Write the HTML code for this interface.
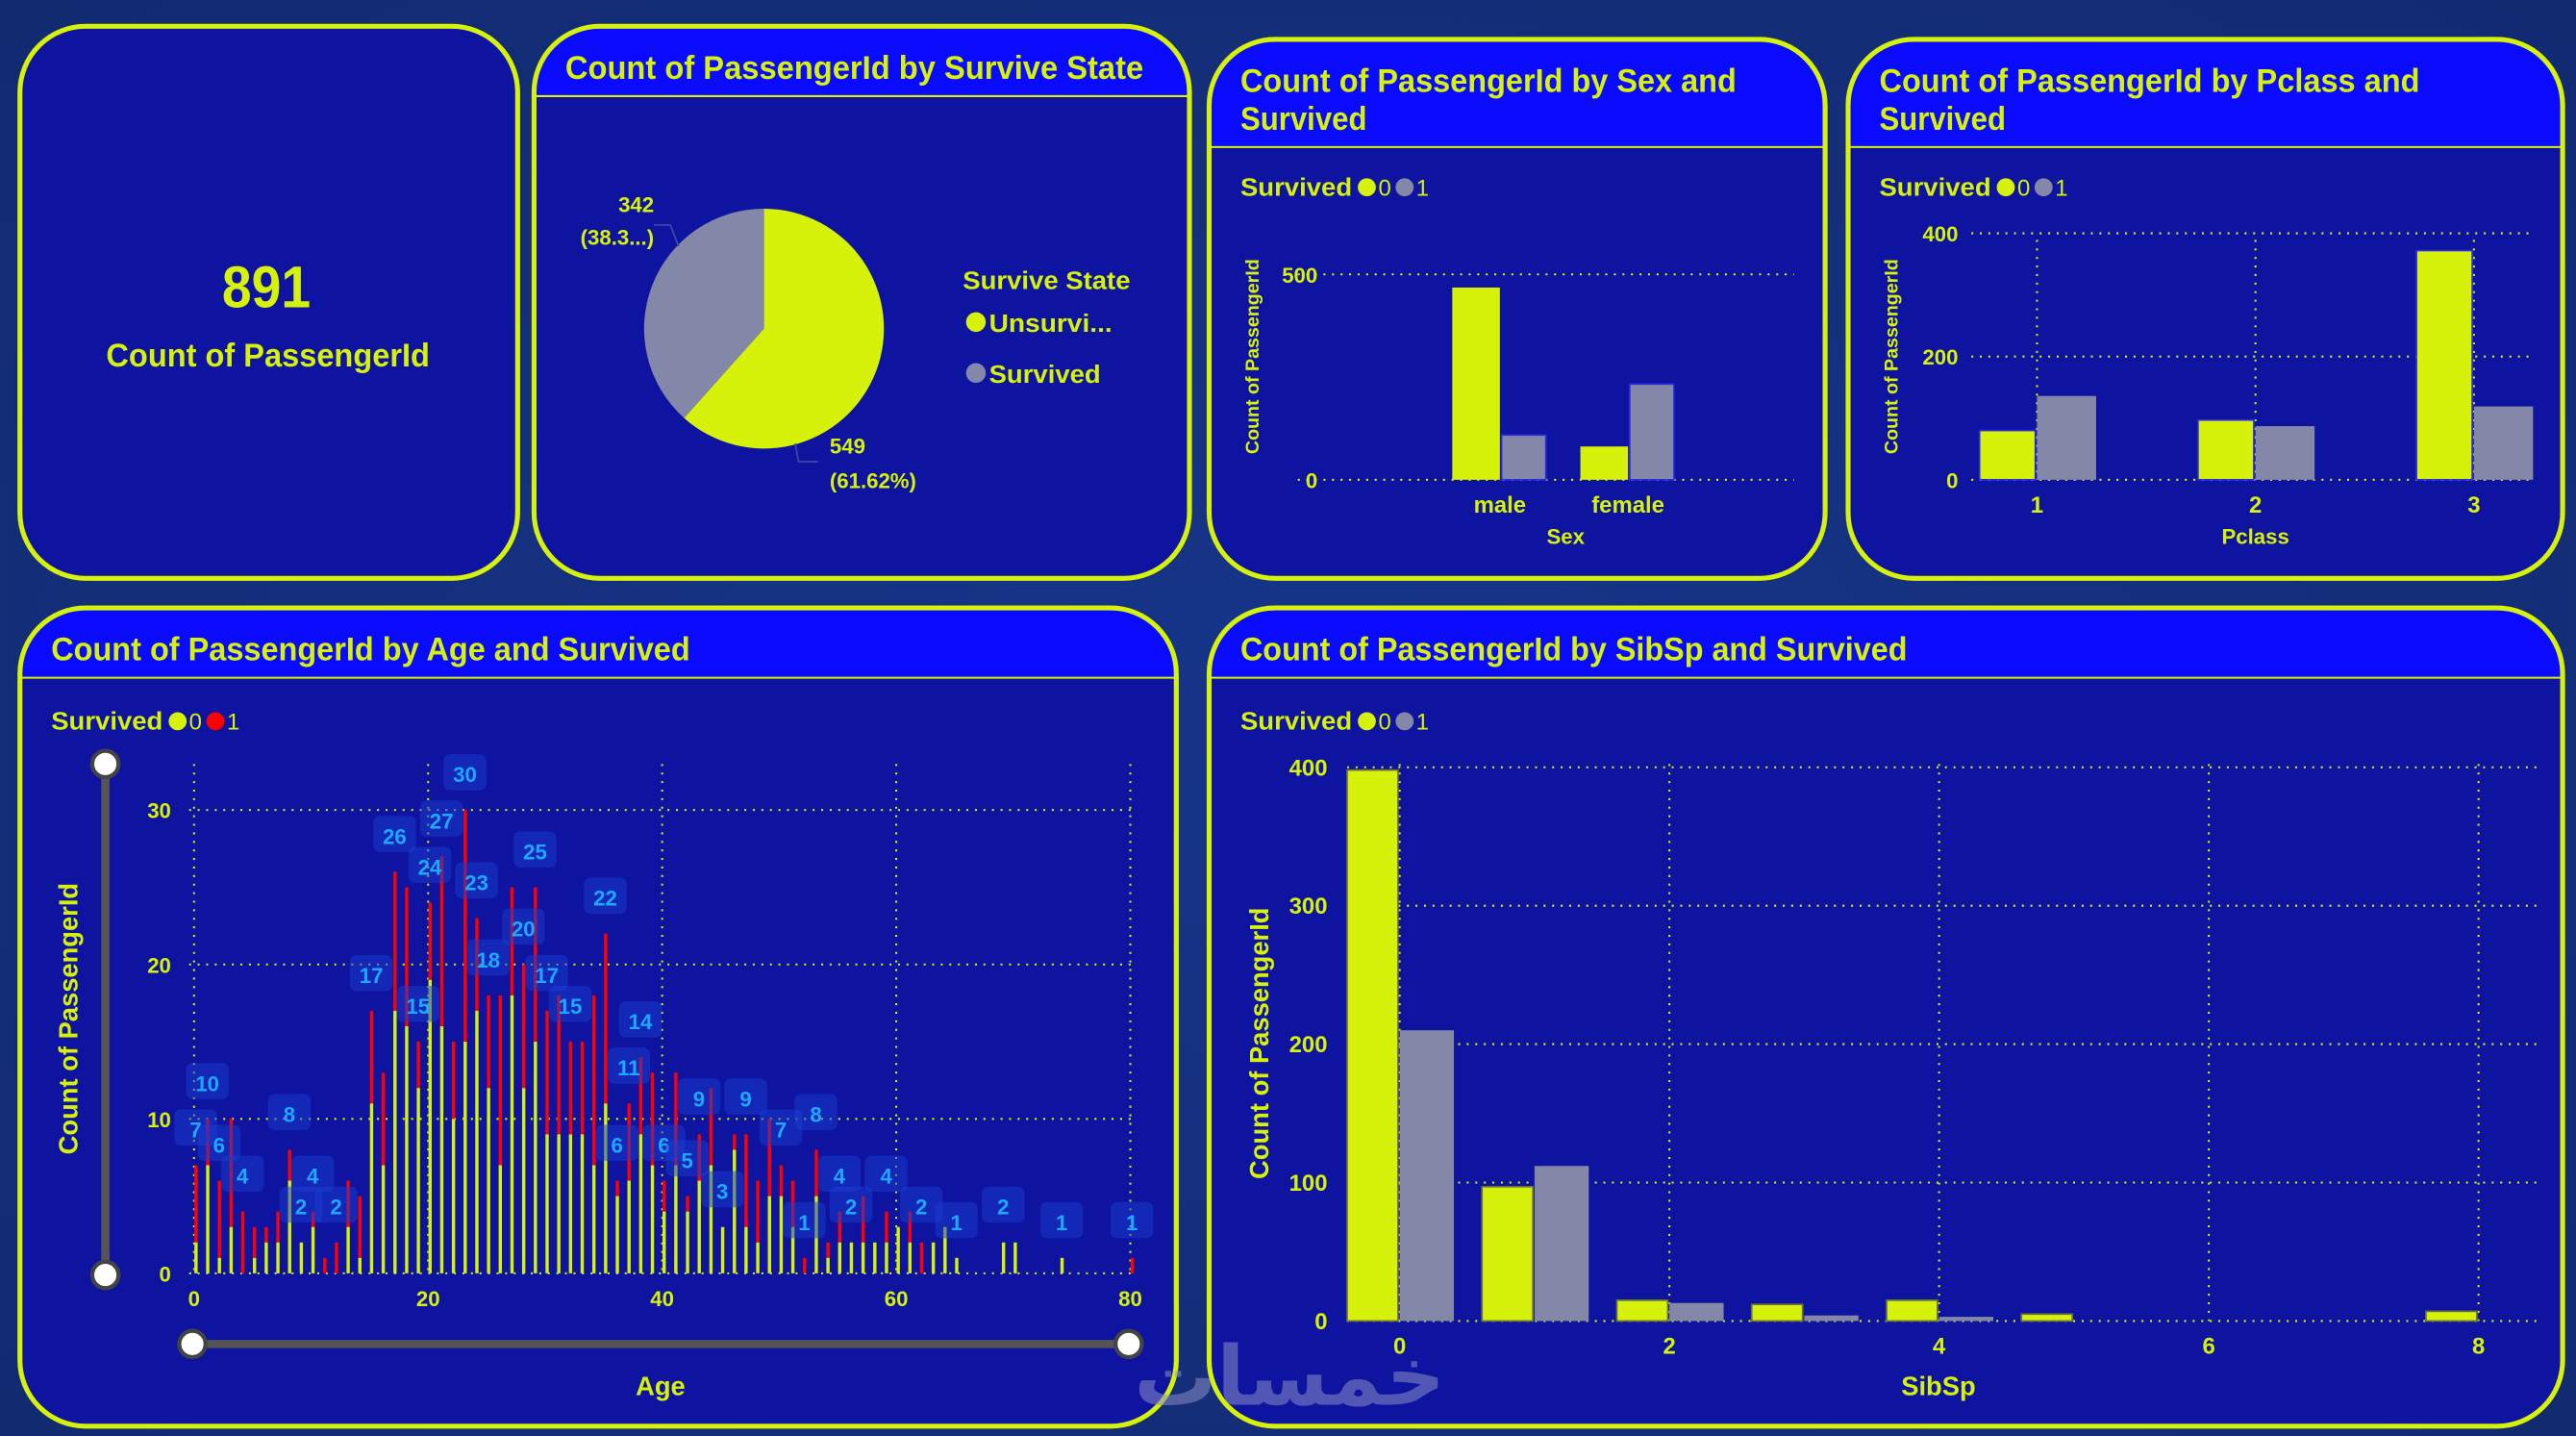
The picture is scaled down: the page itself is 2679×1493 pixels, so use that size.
<!DOCTYPE html>
<html><head><meta charset="utf-8">
<style>
html,body{margin:0;padding:0;background:#14307c;}
svg{display:block;font-family:"Liberation Sans",sans-serif;}
.t{fill:#d6f20a;font-weight:bold;}
</style></head>
<body>
<svg id="dash" width="2679" height="1493" viewBox="0 0 1568 874" xmlns="http://www.w3.org/2000/svg">
<defs>
<radialGradient id="bg" cx="50%" cy="50%" r="70%"><stop offset="0" stop-color="#17358a"/><stop offset="1" stop-color="#122a70"/></radialGradient>
<clipPath id="c2"><rect x="325" y="16" width="399" height="336" rx="40"/></clipPath>
<clipPath id="c3"><rect x="736" y="24" width="375" height="328" rx="40"/></clipPath>
<clipPath id="c4"><rect x="1125" y="24" width="435" height="328" rx="40"/></clipPath>
<clipPath id="c5"><rect x="12" y="370" width="704" height="498" rx="40"/></clipPath>
<clipPath id="c6"><rect x="736" y="370" width="824" height="498" rx="40"/></clipPath>
</defs>
<rect width="1568" height="874" fill="url(#bg)"/>

<g>
<rect x="12" y="16" width="303" height="336" rx="40" fill="#0e14a0" stroke="#d6f20a" stroke-width="3"/>
<text x="162" y="187" text-anchor="middle" class="t" font-size="36" textLength="54" lengthAdjust="spacingAndGlyphs">891</text>
<text x="163" y="223" text-anchor="middle" class="t" font-size="20" textLength="197" lengthAdjust="spacingAndGlyphs">Count of PassengerId</text>
</g>

<g>
<g clip-path="url(#c2)"><rect x="325" y="16" width="399" height="336" fill="#0e14a0"/><rect x="325" y="16" width="399" height="42" fill="#0a0aff"/><line x1="325" y1="58.5" x2="724" y2="58.5" stroke="#d6f20a" stroke-width="1.2"/></g>
<rect x="325" y="16" width="399" height="336" rx="40" fill="none" stroke="#d6f20a" stroke-width="3"/>
<text x="344" y="48" class="t" font-size="20" textLength="352" lengthAdjust="spacingAndGlyphs">Count of PassengerId by Survive State</text>
</g>
<g>
<g clip-path="url(#c3)"><rect x="736" y="24" width="375" height="328" fill="#0e14a0"/><rect x="736" y="24" width="375" height="65" fill="#0a0aff"/><line x1="736" y1="89.5" x2="1111" y2="89.5" stroke="#d6f20a" stroke-width="1.2"/></g>
<rect x="736" y="24" width="375" height="328" rx="40" fill="none" stroke="#d6f20a" stroke-width="3"/>
<text x="755" y="56" class="t" font-size="20" textLength="302" lengthAdjust="spacingAndGlyphs">Count of PassengerId by Sex and</text>
<text x="755" y="79" class="t" font-size="20" textLength="77" lengthAdjust="spacingAndGlyphs">Survived</text>
</g>
<g>
<g clip-path="url(#c4)"><rect x="1125" y="24" width="435" height="328" fill="#0e14a0"/><rect x="1125" y="24" width="435" height="65" fill="#0a0aff"/><line x1="1125" y1="89.5" x2="1560" y2="89.5" stroke="#d6f20a" stroke-width="1.2"/></g>
<rect x="1125" y="24" width="435" height="328" rx="40" fill="none" stroke="#d6f20a" stroke-width="3"/>
<text x="1144" y="56" class="t" font-size="20" textLength="329" lengthAdjust="spacingAndGlyphs">Count of PassengerId by Pclass and</text>
<text x="1144" y="79" class="t" font-size="20" textLength="77" lengthAdjust="spacingAndGlyphs">Survived</text>
</g>
<g>
<g clip-path="url(#c5)"><rect x="12" y="370" width="704" height="498" fill="#0e14a0"/><rect x="12" y="370" width="704" height="42" fill="#0a0aff"/><line x1="12" y1="412.5" x2="716" y2="412.5" stroke="#d6f20a" stroke-width="1.2"/></g>
<rect x="12" y="370" width="704" height="498" rx="40" fill="none" stroke="#d6f20a" stroke-width="3"/>
<text x="31" y="402" class="t" font-size="20" textLength="389" lengthAdjust="spacingAndGlyphs">Count of PassengerId by Age and Survived</text>
</g>
<g>
<g clip-path="url(#c6)"><rect x="736" y="370" width="824" height="498" fill="#0e14a0"/><rect x="736" y="370" width="824" height="42" fill="#0a0aff"/><line x1="736" y1="412.5" x2="1560" y2="412.5" stroke="#d6f20a" stroke-width="1.2"/></g>
<rect x="736" y="370" width="824" height="498" rx="40" fill="none" stroke="#d6f20a" stroke-width="3"/>
<text x="755" y="402" class="t" font-size="20" textLength="406" lengthAdjust="spacingAndGlyphs">Count of PassengerId by SibSp and Survived</text>
</g>

<text x="586" y="176" class="t" font-size="15" textLength="102" lengthAdjust="spacingAndGlyphs">Survive State</text>
<g><circle cx="594" cy="196" r="6" fill="#d6f20a"/><text x="602" y="202" class="t" font-size="15" textLength="75" lengthAdjust="spacingAndGlyphs">Unsurvi...</text></g>
<g><circle cx="594" cy="227" r="6" fill="#8488a8"/><text x="602" y="233" class="t" font-size="15" textLength="68" lengthAdjust="spacingAndGlyphs">Survived</text></g>
<g id="pie"></g>

<text x="785" y="855" text-anchor="middle" font-family="'DejaVu Sans',sans-serif" font-size="50" fill="#8a8fc8" opacity="0.55" font-weight="bold">خمسات</text>

<g id="charts"></g>
</svg>
<script>
const pieLabels = ["Unsurvived", "Survived"];
const pieValues = [549, 342];

const sexCats = ["male", "female"];
const sexS0 = [468, 81];
const sexS1 = [109, 233];

const pclassCats = ["1", "2", "3"];
const pclassS0 = [80, 97, 372];
const pclassS1 = [136, 87, 119];

const sibspCats = [0, 1, 2, 3, 4, 5, 8];
const sibspS0 = [398, 97, 15, 12, 15, 5, 7];
const sibspS1 = [210, 112, 13, 4, 3, 0, 0];

const ageCats = [0,1,2,3,4,5,6,7,8,9,10,11,12,13,14,15,16,17,18,19,20,21,22,23,24,25,26,27,28,29,30,31,32,33,34,35,36,37,38,39,40,41,42,43,44,45,46,47,48,49,50,51,52,53,54,55,56,57,58,59,60,61,62,63,64,65,69,70,74,80];
const ageS0 = [2,7,1,3,0,1,2,2,6,2,3,0,0,3,1,11,7,17,16,12,19,16,10,15,17,12,7,18,12,15,9,9,9,9,7,11,5,6,9,7,4,7,4,6,7,3,8,3,2,5,5,3,0,5,1,2,2,2,2,2,3,2,0,2,3,1,2,2,1,0];
const ageS1 = [5,3,5,7,4,2,1,2,2,0,1,1,2,3,4,6,6,9,9,3,5,11,5,15,6,6,11,7,8,10,8,9,6,6,11,11,1,5,5,6,2,6,1,3,5,0,1,6,4,5,2,3,1,3,1,2,0,3,0,2,0,2,2,0,0,0,0,0,0,1];
const ageLabelAges = [0,1,2,4,8,9,10,12,15,17,19,20,21,23,24,25,28,29,30,32,35,36,37,38,40,42,43,45,47,50,52,53,55,56,59,62,65,69,74,80];

const Y = "#d6f20a", G = "#8488a8", R = "#ff0000";
const NS = "http://www.w3.org/2000/svg";
const root = document.getElementById("charts");
function mk(tag, attrs, parent) {
  const e = document.createElementNS(NS, tag);
  for (const k in attrs) e.setAttribute(k, attrs[k]);
  (parent || root).appendChild(e);
  return e;
}
function txt(x, y, s, size, anchor, parent, extra) {
  const e = mk("text", Object.assign({x: x, y: y, "font-size": size, "text-anchor": anchor || "start", fill: Y, "font-weight": "bold"}, extra || {}), parent);
  e.textContent = s;
  return e;
}
function hgrid(x1, x2, y) { mk("line", {x1: x1, x2: x2, y1: y, y2: y, stroke: Y, "stroke-width": 1.2, "stroke-dasharray": "1.2 4"}); }
function vgrid(x, y1, y2) { mk("line", {x1: x, x2: x, y1: y1, y2: y2, stroke: Y, "stroke-width": 1.2, "stroke-dasharray": "1.2 4"}); }
function legend(x, y, c0, c1) {
  const g = mk("g", {});
  
  
  txt(x, y, "Survived", 15, "start", g, {textLength: 68, lengthAdjust: "spacingAndGlyphs"});
  mk("circle", {cx: x + 77, cy: y - 5, r: 5.5, fill: c0}, g);
  txt(x + 84, y, "0", 14, "start", g, {"font-weight": "normal"});
  mk("circle", {cx: x + 100, cy: y - 5, r: 5.5, fill: c1}, g);
  txt(x + 107, y, "1", 14, "start", g, {"font-weight": "normal"});
}
function yTitle(x, y, s, size) {
  const e = txt(x, y, s, size, "middle", null, {transform: "rotate(-90 " + x + " " + y + ")"});
  
  
}

(function () {
  const pg = document.getElementById("pie");
  const cx = 465, cy = 200, r = 73;
  const total = pieValues.reduce((a, b) => a + b, 0);
  const cols = [Y, G];
  let a0 = 0;
  pieValues.forEach((v, i) => {
    const a1 = a0 + v / total * 2 * Math.PI;
    const p = (a) => [cx + r * Math.sin(a), cy - r * Math.cos(a)];
    const s = p(a0), e = p(a1);
    const large = (a1 - a0) > Math.PI ? 1 : 0;
    const path = mk("path", {d: `M${cx},${cy} L${s[0]},${s[1]} A${r},${r} 0 ${large} 1 ${e[0]},${e[1]} Z`, fill: cols[i]}, pg);
    
    
    a0 = a1;
  });
  const pct0 = (pieValues[0] / total * 100).toFixed(2);
  const pct1 = (Math.floor(pieValues[1] / total * 1000) / 10).toFixed(1);
  mk("polyline", {points: "484,270 486,281 498,281", fill: "none", stroke: "#3a4aa0", "stroke-width": 1}, pg);
  mk("polyline", {points: "398,137 408,137 413,150", fill: "none", stroke: "#3a4aa0", "stroke-width": 1}, pg);
  const l1 = txt(505, 276, String(pieValues[0]), 13, "start", pg);  
  txt(505, 297, "(" + pct0 + "%)", 13, "start", pg);
  const l2 = txt(398, 129, String(pieValues[1]), 13, "end", pg);  
  txt(398, 149, "(" + pct1 + "...)", 13, "end", pg);
})();

(function () {
  const y = v => 292 - v * 0.25;
  const cx = [913, 991];
  legend(755, 119, Y, G);
  hgrid(790, 1092, y(500)); hgrid(790, 1092, y(0));
  [0, 500].forEach(t => txt(802, y(t) + 5, String(t), 13, "end"));
  sexCats.forEach((c, i) => {
    const b0 = mk("rect", {x: cx[i] - 29, y: y(sexS0[i]), width: 29, height: 292 - y(sexS0[i]), fill: Y});
     
    const b1 = mk("rect", {x: cx[i] + 1, y: y(sexS1[i]), width: 27, height: 292 - y(sexS1[i]), fill: G, stroke: "#2a2ae0", "stroke-width": 1});
     
    txt(cx[i], 312, c, 14, "middle");
  });
  const xt = txt(953, 331, "Sex", 13, "middle");  
  yTitle(766, 217, "Count of PassengerId", 11.5);
})();

(function () {
  const y = v => 292 - v * 0.375;
  const cx = [1240, 1373, 1506];
  legend(1144, 119, Y, G);
  [0, 200, 400].forEach(t => { hgrid(1200, 1543, y(t)); txt(1192, y(t) + 5, String(t), 13, "end"); });
  cx.forEach(x => vgrid(x, 146, 292));
  pclassCats.forEach((c, i) => {
    const b0 = mk("rect", {x: cx[i] - 35, y: y(pclassS0[i]), width: 34, height: 292 - y(pclassS0[i]), fill: Y, stroke: "#2a2ae0", "stroke-width": 1});
     
    const b1 = mk("rect", {x: cx[i], y: y(pclassS1[i]), width: 36, height: 292 - y(pclassS1[i]), fill: G});
     
    txt(cx[i], 312, c, 14, "middle");
  });
  const xt = txt(1373, 331, "Pclass", 13, "middle");  
  yTitle(1155, 217, "Count of PassengerId", 11.5);
})();

(function () {
  const x = v => 852 + v * 82.1;
  const y = v => 804 - v * 0.8425;
  legend(755, 444, Y, G);
  [0, 100, 200, 300, 400].forEach(t => { hgrid(820, 1545, y(t)); txt(808, y(t) + 5, String(t), 14, "end"); });
  [0, 2, 4, 6, 8].forEach(t => { vgrid(x(t), 465, 804); txt(x(t), 824, String(t), 14, "middle"); });
  sibspCats.forEach((c, i) => {
    if (sibspS0[i] > 0) {
      const b0 = mk("rect", {x: x(c) - 32, y: y(sibspS0[i]), width: 31, height: 804 - y(sibspS0[i]), fill: Y, stroke: "#6a7040", "stroke-width": 1});
       
    }
    if (sibspS1[i] > 0) {
      const b1 = mk("rect", {x: x(c), y: y(sibspS1[i]), width: 33, height: 804 - y(sibspS1[i]), fill: G});
       
    }
  });
  const xt = txt(1180, 849, "SibSp", 16, "middle");  
  yTitle(772, 635, "Count of PassengerId", 16);
})();

(function () {
  const x = v => 118 + v * 7.125;
  const y = v => 775 - v * 9.4;
  legend(31, 444, Y, R);
  [0, 10, 20, 30].forEach(t => { hgrid(115, 690, y(t)); txt(104, y(t) + 5, String(t), 13, "end"); });
  [0, 20, 40, 60, 80].forEach(t => { vgrid(x(t), 465, 775); txt(x(t), 795, String(t), 13, "middle"); });
  ageCats.forEach((a, i) => {
    const tot = ageS0[i] + ageS1[i];
    if (ageS1[i] > 0) {
      const r = mk("rect", {x: x(a) + 0.2, y: y(tot), width: 2, height: y(ageS0[i]) - y(tot), fill: R});
       
    }
    if (ageS0[i] > 0) {
      const b = mk("rect", {x: x(a) + 0.2, y: y(ageS0[i]), width: 2, height: 775 - y(ageS0[i]), fill: Y});
       
    }
  });
  ageLabelAges.forEach(a => {
    const i = ageCats.indexOf(a);
    if (i < 0) return;
    const tot = ageS0[i] + ageS1[i];
    const g = mk("g", {});
    
    
    mk("rect", {x: x(a) - 12, y: y(tot) - 34, width: 26, height: 22, rx: 4, fill: "#1a3bd0", opacity: 0.5}, g);
    txt(x(a) + 1, y(tot) - 17, String(tot), 13, "middle", g, {fill: "#1ea8ff"});
  });
  const vs = mk("g", {});  
  mk("line", {x1: 64, x2: 64, y1: 465, y2: 776, stroke: "#555", "stroke-width": 5}, vs);
  mk("circle", {cx: 64, cy: 465, r: 8, fill: "#fff", stroke: "#444", "stroke-width": 2.5}, vs);
  mk("circle", {cx: 64, cy: 776, r: 8, fill: "#fff", stroke: "#444", "stroke-width": 2.5}, vs);
  const hs = mk("g", {});  
  mk("line", {x1: 117, x2: 687, y1: 818, y2: 818, stroke: "#555", "stroke-width": 5}, hs);
  mk("circle", {cx: 117, cy: 818, r: 8, fill: "#fff", stroke: "#444", "stroke-width": 2.5}, hs);
  mk("circle", {cx: 687, cy: 818, r: 8, fill: "#fff", stroke: "#444", "stroke-width": 2.5}, hs);
  const xt = txt(402, 849, "Age", 16, "middle");  
  yTitle(47, 620, "Count of PassengerId", 16);
})();
</script>
</body></html>
